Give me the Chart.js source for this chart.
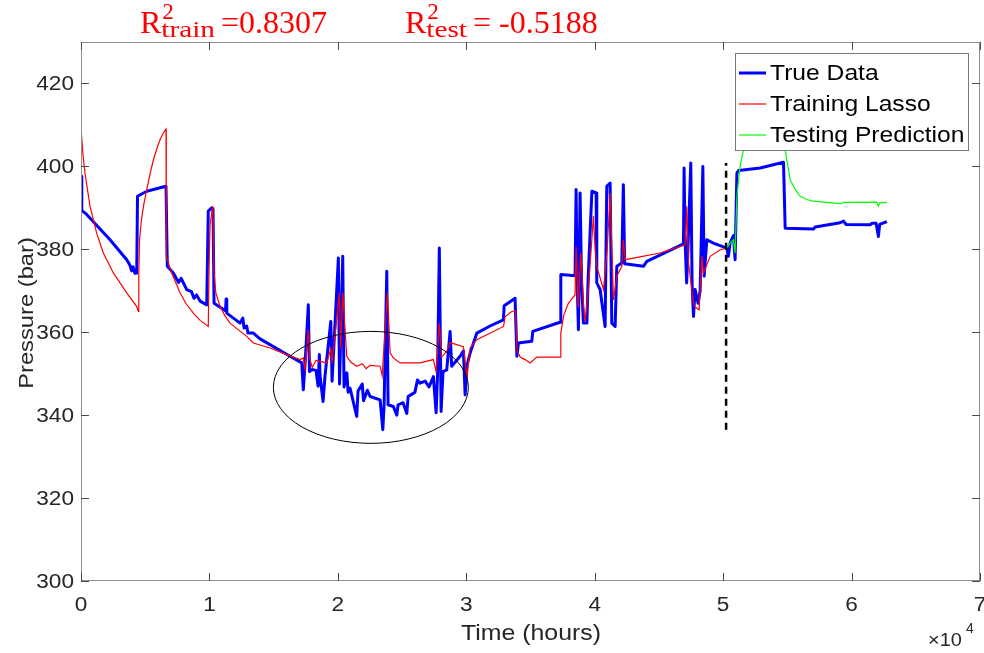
<!DOCTYPE html>
<html>
<head>
<meta charset="utf-8">
<script src="https://cdn.jsdelivr.net/npm/chart.js@4"></script>
<style>
  html,body{margin:0;padding:0;background:#fff;}
  #c{display:block;}
</style>
</head>
<body>
<canvas id="c" width="984" height="653"></canvas>
<script>
// ---- data (hours, bar) ----
const trueHours = [
  0, 60, 440, 2260, 3560, 3800, 3950, 4050, 4200, 4340,
  4400, 5120, 6620, 6720, 7190, 7600, 7800, 8230, 8600, 8800,
  9000, 9270, 9790, 9910, 10180, 10280, 10360, 11250, 11300, 11350,
  12380, 12600, 12700, 12900, 13000, 13420, 13940, 16280, 17190, 17310,
  17440, 17700, 17790, 17990, 18300, 18460, 18560, 18610, 18850, 19000,
  19450, 19550, 20040, 20130, 20380, 20480, 20700, 20800, 20950, 21470,
  21570, 21900, 22000, 22300, 22510, 23290, 23500, 23600, 23810, 23910,
  24320, 24590, 24690, 25080, 25370, 25470, 26000, 26200, 26400, 26800,
  27100, 27440, 27650, 27760, 27900, 28040, 28190, 28480, 28740, 28860,
  29520, 29780, 29910, 30060, 30300, 30820, 31850, 32890, 32950, 33800,
  33940, 34060, 35100, 35180, 37300, 37360, 38470, 38550, 38630, 38730,
  38780, 38860, 38980, 39120, 39390, 39490, 39780, 40110, 40160, 40420,
  40810, 40940, 41200, 41330, 41590, 41720, 42110, 42230, 42330, 43790,
  44060, 46910, 46960, 47040, 47160, 47270, 47480, 47580, 47690, 47820,
  48050, 48210, 48420, 48520, 48730, 49240, 50290, 50410, 50540, 50800,
  50930, 51070, 51200, 52880, 54700, 54830, 57030, 57170, 59110, 59370,
  59580, 61450, 61600, 61910, 62090, 62190, 62750
];
const truePressure = [
  397.6, 389.4, 388.4, 382.3, 377.5, 376.2, 374.8, 375.8, 374.2, 374.3,
  392.8, 394.0, 395.2, 375.9, 374.3, 372.0, 373.0, 370.3, 369.8, 368.2,
  369.0, 367.5, 366.6, 389.2, 390.0, 389.8, 367.0, 365.2, 368.0, 364.6,
  362.2, 363.4, 361.0, 361.5, 359.8, 359.8, 358.4, 354.2, 352.6, 346.1,
  352.0, 366.6, 350.5, 351.0, 350.8, 347.0, 354.6, 349.5, 343.3, 349.5,
  362.6, 348.2, 377.9, 347.5, 378.3, 346.8, 350.2, 345.5, 346.5, 339.7,
  345.8, 347.5, 343.5, 346.0, 344.5, 343.7, 336.5, 342.5, 374.7, 342.5,
  342.1, 340.0, 342.5, 343.0, 340.4, 344.5, 345.5, 348.5, 347.7, 348.2,
  346.8, 349.3, 340.6, 349.5, 380.3, 340.9, 350.5, 350.9, 360.2, 351.8,
  354.2, 355.5, 344.9, 352.0, 355.0, 359.8, 361.5, 363.0, 366.4, 368.2,
  354.2, 357.4, 357.8, 360.2, 362.4, 373.9, 373.6, 394.4, 373.0, 360.6,
  372.0, 393.6, 372.0, 362.2, 362.2, 373.0, 394.0, 393.6, 371.9, 370.3,
  361.4, 395.2, 396.0, 362.2, 361.4, 375.9, 376.7, 395.6, 376.5, 375.9,
  377.1, 381.3, 399.6, 381.5, 371.9, 381.0, 400.8, 372.0, 363.8, 370.3,
  367.0, 370.0, 400.0, 373.5, 382.3, 381.5, 380.3, 378.3, 381.5, 383.3,
  377.5, 398.4, 399.0, 399.6, 401.0, 385.1, 384.9, 385.4, 386.4, 386.8,
  386.0, 385.9, 386.3, 386.3, 383.1, 386.0, 386.7
];

const trainHours = [
  0, 150, 310, 700, 1220, 1740, 2520, 3560, 4340, 4460,
  4500, 4560, 4700, 4900, 5120, 5400, 5640, 5900, 6160, 6400,
  6620, 6640, 7060, 7400, 7710, 8200, 8750, 9300, 9910, 9970,
  10050, 10260, 10360, 10500, 10830, 11200, 11600, 12900, 13420, 14720,
  16020, 17060, 17310, 17440, 17700, 17830, 18000, 18300, 19130, 19450,
  19550, 20120, 20220, 20380, 20690, 21000, 21470, 21900, 22200, 22510,
  23290, 23450, 23860, 24070, 24320, 24840, 26400, 27440, 27650, 27900,
  28080, 28480, 28740, 29780, 30040, 30300, 30820, 32900, 33030, 33540,
  33840, 33940, 34190, 34580, 34970, 35490, 37300, 37360, 37580, 37950,
  38470, 38550, 38710, 38920, 39120, 39250, 39510, 39900, 40030, 40160,
  40680, 40970, 41200, 41460, 41720, 42110, 42230, 42370, 45090, 47040,
  47170, 47300, 47740, 48130, 48340, 48470, 48990, 49770, 50290
];
const trainPressure = [
  409.3, 403.0, 398.4, 390.4, 383.9, 379.1, 374.3, 369.5, 366.2, 365.0,
  374.0, 382.3, 387.0, 391.0, 394.4, 398.5, 401.6, 404.2, 406.5, 408.0,
  409.0, 378.3, 374.3, 371.8, 369.5, 366.8, 364.6, 362.8, 361.4, 375.0,
  386.0, 390.4, 374.3, 369.5, 366.2, 364.0, 362.2, 359.0, 357.4, 356.2,
  354.6, 353.4, 353.8, 351.0, 360.6, 353.5, 351.5, 353.2, 352.6, 356.0,
  352.5, 369.5, 356.0, 369.5, 354.2, 352.8, 351.8, 352.4, 351.2, 352.0,
  351.8, 349.5, 369.5, 355.0, 353.8, 352.6, 352.6, 353.4, 350.5, 362.2,
  354.0, 355.4, 357.5, 356.5, 349.3, 356.2, 358.2, 361.4, 363.8, 365.0,
  365.2, 355.8, 354.0, 353.4, 352.6, 354.0, 354.0, 359.8, 364.0, 367.0,
  369.0, 380.7, 366.0, 379.1, 367.0, 362.5, 370.3, 388.0, 380.0, 375.9,
  370.3, 380.0, 393.6, 367.8, 373.5, 375.9, 382.3, 377.5, 379.1, 381.1,
  390.4, 376.7, 366.2, 365.4, 378.3, 374.3, 378.3, 379.9, 380.3
];

const testHours = [
  50290, 50540, 50800, 50930, 51070, 51320, 51580, 52100, 53270, 54440,
  54830, 55220, 55600, 56000, 56500, 57030, 59110, 59370, 61960, 62090,
  62190, 62750
];
const testPressure = [
  380.3, 381.5, 382.3, 379.1, 392.8, 400.0, 404.0, 410.0, 414.0, 412.0,
  404.0, 396.8, 394.5, 392.8, 392.0, 391.6, 391.0, 391.3, 391.4, 390.4,
  391.2, 391.3
];

// train/test split marker
const splitHours = [50230, 50230];
const splitPressure = [336.5, 400.8];

// circled region (centre hours, centre bar, half width hours, half height bar)
const ringX = 22570, ringY = 346.7, ringRx = 7590, ringRy = 13.5;

const xTickValues = [0, 10000, 20000, 30000, 40000, 50000, 60000, 70000];
const yTickValues = [300, 320, 340, 360, 380, 400, 420];

const legendItems = [
  {label: 'True Data', color: '#0000ff', width: 3},
  {label: 'Training Lasso', color: '#ff0000', width: 1.2},
  {label: 'Testing Prediction', color: '#00ff00', width: 1.2}
];

const SANS = "'Liberation Sans', Arial, Helvetica, sans-serif";
const SERIF = "'Liberation Serif', 'Times New Roman', serif";
const STRETCH = 1.13;   // the exported figure text is a bit wide

const pts = (xs, ys) => xs.map((v, i) => ({x: v, y: ys[i]}));

// ---- drawing helpers ----
function wideText(ctx, txt, x, y, sx, rot){
  ctx.save();
  ctx.translate(x, y);
  if(rot) ctx.rotate(rot);
  ctx.scale(sx, 1);
  ctx.fillText(txt, 0, 0);
  ctx.restore();
}

function drawR2(ctx, x, sub, rest){
  ctx.fillStyle = '#ff0000';
  ctx.textBaseline = 'alphabetic';
  ctx.textAlign = 'left';
  ctx.font = '32px ' + SERIF;
  ctx.fillText('R', x, 33);
  const w = ctx.measureText('R').width;
  ctx.font = '23px ' + SERIF;
  ctx.fillText('2', x + w + 1, 19);
  ctx.font = '24px ' + SERIF;
  wideText(ctx, sub, x + w, 37, 1.22);
  const sw = ctx.measureText(sub).width * 1.22;
  ctx.font = '32px ' + SERIF;
  wideText(ctx, rest, x + w + sw - 2, 33, 1.0);
}

const decorPlugin = {
  id: 'decor',
  afterDatasetsDraw(chart){
    const {ctx, scales:{x, y}} = chart;
    const cx = x.getPixelForValue(ringX), cy = y.getPixelForValue(ringY);
    const rx = x.getPixelForValue(ringX + ringRx) - cx;
    const ry = cy - y.getPixelForValue(ringY + ringRy);
    ctx.save();
    ctx.strokeStyle = '#000';
    ctx.lineWidth = 1;
    ctx.beginPath();
    ctx.ellipse(cx, cy, rx, ry, 0, 0, Math.PI * 2);
    ctx.stroke();
    ctx.restore();
  },
  afterDraw(chart){
    const {ctx, chartArea:a, scales:{x, y}} = chart;
    ctx.save();

    // box
    ctx.strokeStyle = '#8f8f8f';
    ctx.lineWidth = 1;
    ctx.strokeRect(a.left + 0.5, a.top + 0.5, a.right - a.left - 1, a.bottom - a.top - 1);

    // inward ticks
    ctx.strokeStyle = '#4a4a4a';
    ctx.beginPath();
    xTickValues.forEach(v => {
      const px = Math.round(x.getPixelForValue(v)) + 0.5;
      ctx.moveTo(px, a.bottom); ctx.lineTo(px, a.bottom - 8);
      ctx.moveTo(px, a.top); ctx.lineTo(px, a.top + 8);
    });
    yTickValues.forEach(v => {
      const py = Math.round(y.getPixelForValue(v)) + 0.5;
      ctx.moveTo(a.left, py); ctx.lineTo(a.left + 8, py);
      ctx.moveTo(a.right, py); ctx.lineTo(a.right - 8, py);
    });
    ctx.stroke();

    // tick labels
    ctx.fillStyle = '#262626';
    ctx.font = '20px ' + SANS;
    ctx.textBaseline = 'middle';
    ctx.textAlign = 'center';
    xTickValues.forEach(v => wideText(ctx, String(v / 10000), x.getPixelForValue(v), 605, STRETCH));
    ctx.textAlign = 'right';
    yTickValues.forEach(v => wideText(ctx, String(v), 74, y.getPixelForValue(v) + 1, STRETCH));

    // legend
    const lx = 735, ly = 53, lw = 233, lh = 97;
    ctx.fillStyle = '#fff';
    ctx.fillRect(lx, ly, lw, lh);
    ctx.strokeStyle = '#7a7a7a';
    ctx.lineWidth = 1;
    ctx.strokeRect(lx + 0.5, ly + 0.5, lw, lh);
    ctx.font = '22px ' + SANS;
    ctx.textBaseline = 'middle';
    ctx.textAlign = 'left';
    legendItems.forEach((it, i) => {
      const yy = 73 + i * 31;
      ctx.strokeStyle = it.color;
      ctx.lineWidth = it.width;
      ctx.beginPath();
      ctx.moveTo(739, yy); ctx.lineTo(766, yy);
      ctx.stroke();
      ctx.fillStyle = '#000';
      wideText(ctx, it.label, 770, yy + 1, 1.12);
    });

    // axis titles
    ctx.fillStyle = '#262626';
    ctx.font = '22px ' + SANS;
    ctx.textAlign = 'center';
    wideText(ctx, 'Time (hours)', 531, 634, STRETCH);
    ctx.font = '21px ' + SANS;
    wideText(ctx, 'Pressure (bar)', 27, 313, STRETCH, -Math.PI / 2);

    // exponent label
    ctx.textAlign = 'left';
    ctx.textBaseline = 'alphabetic';
    ctx.font = '19px ' + SANS;
    wideText(ctx, '\u00d710', 928, 646, 1.05);
    ctx.font = '14px ' + SANS;
    ctx.fillText('4', 966, 633);

    // R^2 header
    drawR2(ctx, 140, 'train', ' =0.8307');
    drawR2(ctx, 405, 'test', ' = -0.5188');

    ctx.restore();
  }
};

// ---- chart ----
new Chart(document.getElementById('c').getContext('2d'), {
  type: 'line',
  data: {
    datasets: [
      {label: 'split', data: pts(splitHours, splitPressure), borderColor: '#000', borderWidth: 2.5,
       borderDash: [7, 5], pointRadius: 0, order: 0},
      {label: 'Testing Prediction', data: pts(testHours, testPressure), borderColor: '#00ff00',
       borderWidth: 1.2, pointRadius: 0, tension: 0, order: 1},
      {label: 'Training Lasso', data: pts(trainHours, trainPressure), borderColor: '#ff0000',
       borderWidth: 1.2, pointRadius: 0, tension: 0, order: 2},
      {label: 'True Data', data: pts(trueHours, truePressure), borderColor: '#0000ff',
       borderWidth: 3, borderJoinStyle: 'round', pointRadius: 0, tension: 0, order: 3}
    ]
  },
  options: {
    responsive: false,
    devicePixelRatio: 1,
    animation: false,
    layout: {padding: {left: 0, top: 42, right: 4, bottom: 0}},
    plugins: {legend: {display: false}, tooltip: {enabled: false}},
    scales: {
      x: {
        type: 'linear', min: 0, max: 70000,
        grid: {display: false, drawTicks: false},
        border: {display: false},
        ticks: {display: false},
        afterBuildTicks: s => { s.ticks = xTickValues.map(v => ({value: v})); },
        afterFit: s => { s.height = 72; s.paddingLeft = 0; s.paddingRight = 0; }
      },
      y: {
        type: 'linear', min: 300, max: 430,
        grid: {display: false, drawTicks: false},
        border: {display: false},
        ticks: {display: false},
        afterBuildTicks: s => { s.ticks = yTickValues.map(v => ({value: v})); },
        afterFit: s => { s.width = 81; s.paddingTop = 0; s.paddingBottom = 0; }
      }
    }
  },
  plugins: [decorPlugin]
});
</script>
</body>
</html>
